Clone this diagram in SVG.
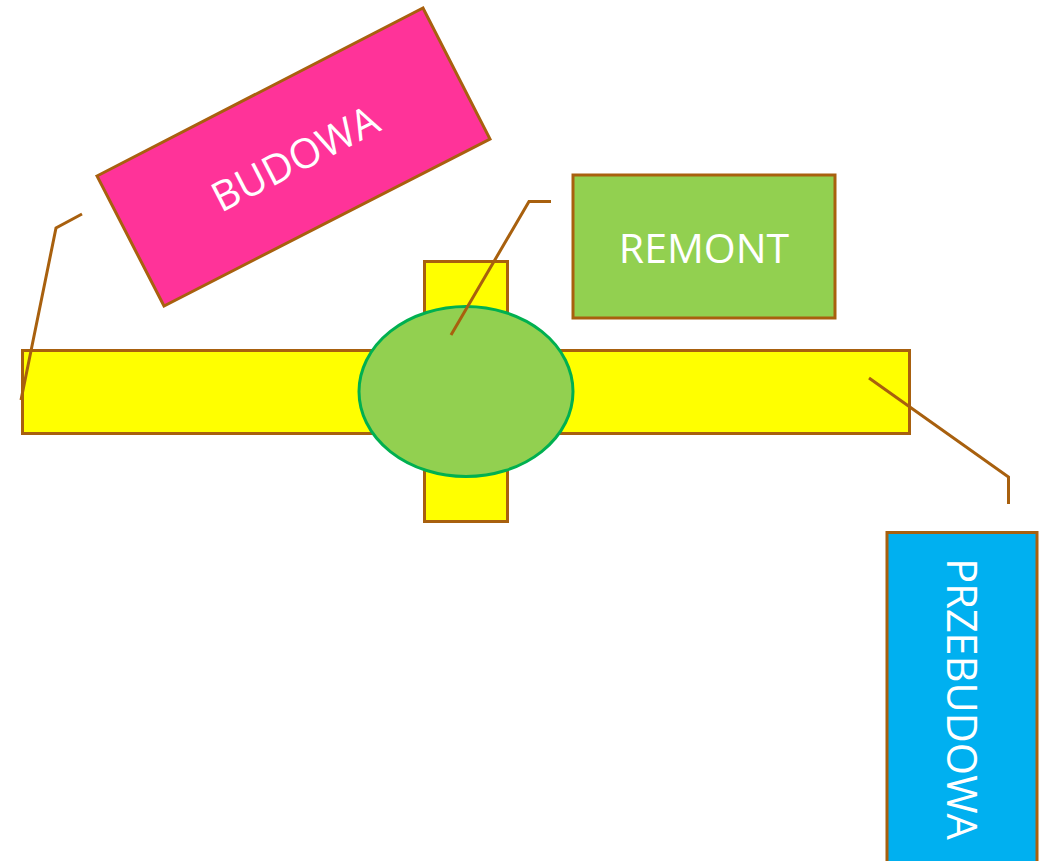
<svg xmlns="http://www.w3.org/2000/svg" width="1051" height="861" viewBox="0 0 1051 861">
<style>
.box{stroke:#A8600E;stroke-width:3}
.lbl{font-family:"Open Sans","Liberation Sans",sans-serif;fill:#FFFFFF;text-anchor:middle}
.call{fill:none;stroke:#A8600E;stroke-width:3}
</style>
<rect width="1051" height="861" fill="#FFFFFF"/>
<g id="cross">
<rect class="box" x="22.5" y="350.5" width="887" height="83" fill="#FFFF00"/>
<rect class="box" x="424.5" y="261.5" width="83" height="260" fill="#FFFF00"/>
<ellipse cx="466" cy="391.5" rx="107" ry="85" fill="#92D050" stroke="#00B050" stroke-width="3"/>
</g>
<g id="budowa">
<polygon class="box" points="97,176 423,8 490,139 164,306" fill="#FF3399"/>
<text class="lbl" font-size="41" transform="translate(295,158) rotate(-27.26)" y="15">BUDOWA</text>
</g>
<g id="remont">
<rect class="box" x="573" y="175" width="262" height="143" fill="#92D050"/>
<text class="lbl" font-size="41" x="704" y="263">REMONT</text>
</g>
<g id="przebudowa">
<rect class="box" x="887" y="532.5" width="150" height="340" fill="#00B0F0"/>
<text class="lbl" font-size="41.5" transform="translate(947,699) rotate(90)">PRZEBUDOWA</text>
</g>
<g id="connectors">
<polyline class="call" points="82,214 56,228 21,400"/>
<polyline class="call" points="551,201.5 529,201.5 451,335"/>
<polyline class="call" points="869,378 1008.5,477 1008.5,504"/>
</g>
</svg>
